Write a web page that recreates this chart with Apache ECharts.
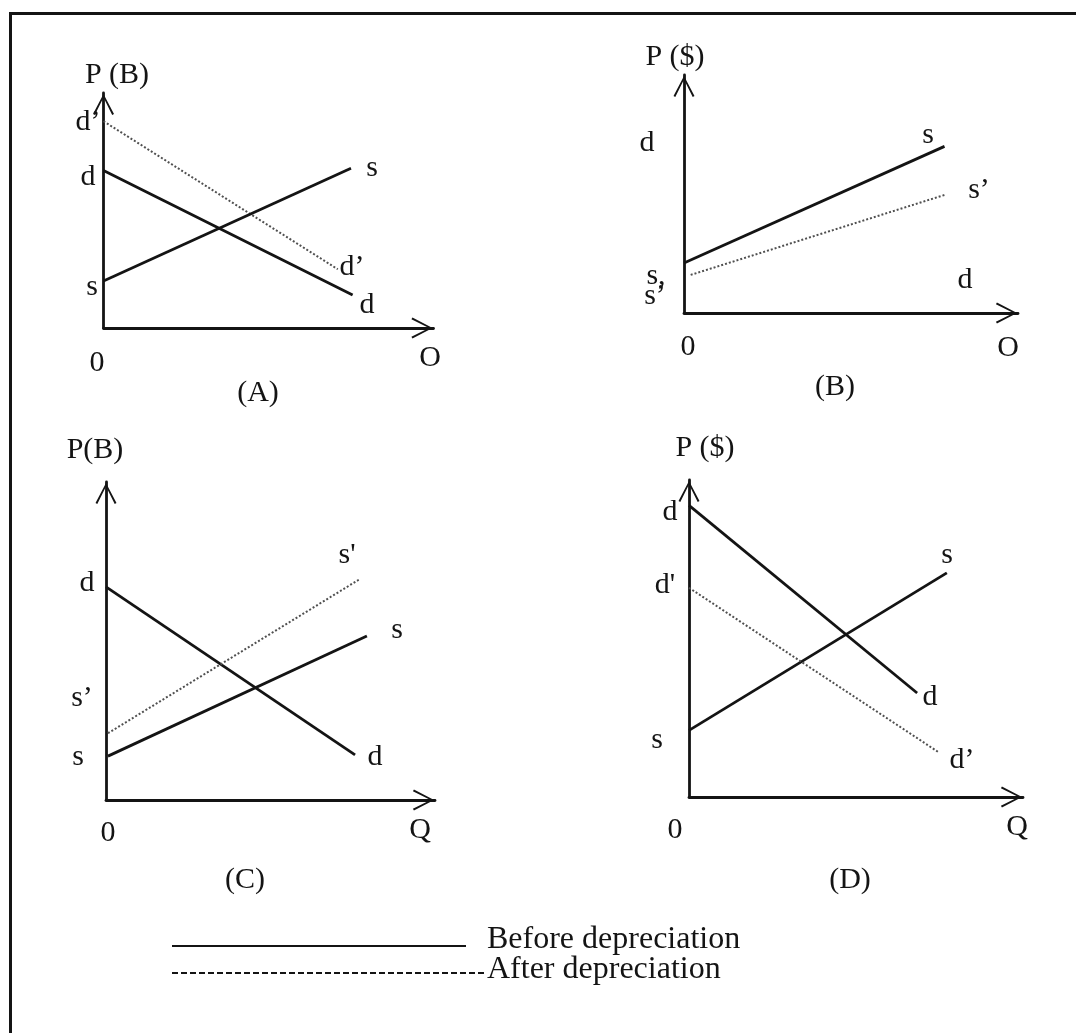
<!DOCTYPE html>
<html>
<head>
<meta charset="utf-8">
<script src="https://cdn.jsdelivr.net/npm/echarts@6/dist/echarts.min.js"></script>
<style>
  html, body { margin: 0; padding: 0; background: #fff; }
  #main { width: 1076px; height: 1033px; }
</style>
</head>
<body>
<div id="main"></div>
<script>
// line end points, axes run 0..100 on both sides
const aDemand = [[0, 67], [75.5, 14]];
const aDemandAfter = [[0, 88], [71, 25]];
const aSupply = [[0, 20], [75, 68]];

const bSupply = [[0, 21], [78, 70]];
const bSupplyAfter = [[2, 16], [78, 49.6]];

const cDemand = [[0, 67], [75.7, 14.2]];
const cSupply = [[0.6, 13.8], [79.3, 51.6]];
const cSupplyAfter = [[0.6, 21], [77.2, 69.5]];

const dDemand = [[0, 92], [68.3, 32.8]];
const dSupply = [[0, 21], [77.2, 70.7]];
const dDemandAfter = [[0, 66], [74.9, 14]];

const legendNames = ['Before depreciation', 'After depreciation'];

let chartDom = document.getElementById('main');
let myChart = echarts.init(chartDom);

const FONT = '"Liberation Serif", "Times New Roman", serif';
const INK = '#141414';
// open chevron, pointing up
const chevron = 'path://M10,0 L20,19.2 L18.3,20.2 L10,3.4 L1.7,20.2 L0,19.2 Z';

const grids = [
    { left: 103.5, top: 93, width: 330, height: 235 },
    { left: 684, top: 75, width: 334, height: 238 },
    { left: 106, top: 482, width: 329, height: 318 },
    { left: 689, top: 480, width: 334, height: 317 }
];

function axis() {
    return {
        type: 'value', min: 0, max: 100,
        axisLine: {
            show: true,
            symbol: ['none', chevron],
            symbolSize: [21, 23],
            symbolOffset: [0, -11.5],
            lineStyle: { color: INK, width: 2.8 }
        },
        axisTick: { show: false },
        axisLabel: { show: false },
        splitLine: { show: false }
    };
}

function curve(idx, pts, after) {
    return {
        type: 'line',
        xAxisIndex: idx, yAxisIndex: idx,
        data: pts,
        symbol: 'none',
        silent: true,
        lineStyle: after
            ? { color: '#505050', width: 2, type: [2, 2] }
            : { color: INK, width: 2.8 }
    };
}

function txt(s, x, y, size) {
    return {
        type: 'text', x: x, y: y, silent: true,
        style: {
            text: s, fill: INK, font: (size || 30) + 'px ' + FONT,
            textAlign: 'center', textVerticalAlign: 'middle'
        }
    };
}

const labels = [
    // (A)
    ['P (B)', 117, 75], ['d’', 88, 122], ['d', 88, 177], ['s', 92, 287],
    ['s', 372, 168], ['d’', 352, 267], ['d', 367, 305], ['0', 97, 363],
    ['O', 430, 358], ['(A)', 258, 393],
    // (B)
    ['P ($)', 675, 57], ['d', 647, 143], ['s', 928, 135], ['s’', 979, 190],
    ['s,', 656, 276], ['s’', 655, 296], ['d', 965, 280], ['0', 688, 347],
    ['O', 1008, 348], ['(B)', 835, 387],
    // (C)
    ['P(B)', 95, 450], ['d', 87, 583], ["s'", 347, 555], ['s', 397, 630],
    ['s’', 82, 698], ['s', 78, 757], ['d', 375, 757], ['0', 108, 833],
    ['Q', 420, 830], ['(C)', 245, 880],
    // (D)
    ['P ($)', 705, 448], ['d', 670, 512], ["d'", 665, 585], ['s', 947, 555],
    ['d', 930, 697], ['s', 657, 740], ['d’', 962, 760], ['0', 675, 830],
    ['Q', 1017, 827], ['(D)', 850, 880]
];

const graphics = labels.map(function (l) { return txt(l[0], l[1], l[2]); });

// frame: top and left edges only
graphics.push({
    type: 'polyline', silent: true,
    shape: { points: [[10.5, 1033], [10.5, 13.5], [1076, 13.5]] },
    style: { stroke: INK, lineWidth: 3, fill: null }
});

// key under the panels
graphics.push({
    type: 'line', silent: true,
    shape: { x1: 172, y1: 946, x2: 466, y2: 946 },
    style: { stroke: INK, lineWidth: 2 }
});
graphics.push({
    type: 'line', silent: true,
    shape: { x1: 172, y1: 973, x2: 484, y2: 973 },
    style: { stroke: INK, lineWidth: 2, lineDash: [6, 3] }
});
graphics.push({
    type: 'text', x: 487, y: 940, silent: true,
    style: { text: legendNames[0], fill: INK, font: '32px ' + FONT, textVerticalAlign: 'middle' }
});
graphics.push({
    type: 'text', x: 487, y: 970, silent: true,
    style: { text: legendNames[1], fill: INK, font: '32px ' + FONT, textVerticalAlign: 'middle' }
});

let option = {
    animation: false,
    backgroundColor: '#fff',
    grid: grids,
    xAxis: grids.map(function (g, i) { return Object.assign(axis(), { gridIndex: i }); }),
    yAxis: grids.map(function (g, i) { return Object.assign(axis(), { gridIndex: i }); }),
    series: [
        curve(0, aDemand), curve(0, aDemandAfter, true), curve(0, aSupply),
        curve(1, bSupply), curve(1, bSupplyAfter, true),
        curve(2, cDemand), curve(2, cSupply), curve(2, cSupplyAfter, true),
        curve(3, dDemand), curve(3, dSupply), curve(3, dDemandAfter, true)
    ],
    graphic: graphics
};

option && myChart.setOption(option);
</script>
</body>
</html>
